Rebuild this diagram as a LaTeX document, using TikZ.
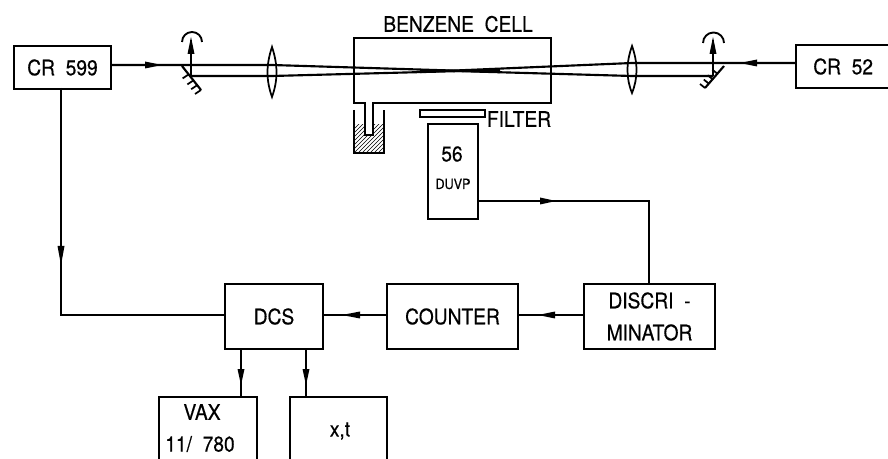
\documentclass[tikz,border=0pt]{standalone}
\usepackage{fontspec}
\setmainfont[FakeStretch=0.9,FakeBold=0.5,WordSpace=2]{TeX Gyre Heros}
\usetikzlibrary{patterns,calc}
\tikzset{
 px/.style={x=0.75pt,y=-0.75pt},
 boxn/.style={draw,line width=1.5pt,inner sep=0pt,align=center,font=\fontsize{16}{24}\selectfont},
 lab/.style={font=\fontsize{16}{18}\selectfont},
 wire/.style={line width=1.1pt},
 beam/.style={line width=1.6pt},
 lens/.style={draw,line width=1.3pt},
}
\newcommand{\mkbox}[6]{\node[boxn,minimum width=#4*0.75pt-#2*0.75pt,minimum height=#5*0.75pt-#3*0.75pt,anchor=north west] (#1) at (#2,#3) {#6};}
\begin{document}
\begin{tikzpicture}[px]
\useasboundingbox (0,0) rectangle (888,459);
\clip (0,0) rectangle (888,459);
\mkbox{crA}{13}{45}{110}{88}{CR 599}
\mkbox{crB}{795}{44}{900}{87}{\hspace*{-8pt}CR 52}
\mkbox{dcs}{224}{283}{322}{348}{DCS}
\mkbox{cnt}{386}{283}{517}{348}{COUNTER}
\mkbox{dsc}{583}{283}{714}{348}{DISCRI -\\MINATOR}
\mkbox{vax}{158}{396}{256}{470}{}
\mkbox{xt}{289}{396}{386}{470}{}
\mkbox{pmt}{427}{123}{477}{218}{}
\node[lab] (vaxa) at (202,412) {VAX};
\node[lab] (vaxb) at (200,444) {11/ 780};
\node[lab] (xtl) at (340,431) {x,t};
\node[lab] (n56) at (452,154) {56};
\node[font=\fontsize{10.5}{11}\selectfont] (duvp) at (453,184) {DUVP};
\node[lab] (bc) at (458,24) {BENZENE CELL};
\node[lab] (ft) at (519,119) {FILTER};
% beams
\coordinate (mAt) at (191,65);\coordinate (mAb) at (191,76);
\coordinate (mBt) at (713,63);\coordinate (mBb) at (713,76);
\coordinate (lAt) at (272,65);\coordinate (lAb) at (272,76);
\coordinate (lBt) at (632,63);\coordinate (lBb) at (632,76);
\draw[beam] (crA.east |- 0,65) -- (lAt) -- (500,72);
\draw[beam] (mAb) -- (lAb) -- (500,70);
\draw[beam] (crB.west |- 0,63) -- (lBt) -- (420,72);
\draw[beam] (mBb) -- (lBb) -- (420,70);
% cell
\draw[line width=1.5pt] (365,135) -- (365,103) -- (354,103) -- (354,38) -- (551,38) -- (551,103) -- (373,103) -- (373,135) -- cycle;
% trap
\fill[pattern=north east lines,pattern color=black] (354,125) rectangle (384,153);
\fill[white] (365.5,110) rectangle (372.5,134.5);
\draw[line width=1.5pt] (354,110) -- (354,153) -- (384,153) -- (384,110);
\draw[line width=1.5pt] (365,135) -- (373,135) (365,110) -- (365,135) (373,110) -- (373,135);
% filter
\draw[line width=1.5pt] (420,110) rectangle (485,117);
% lenses
\draw[lens] (272,47) .. controls (266,65) and (266,80) .. (272,97) .. controls (278,80) and (278,65) .. (272,47) -- cycle;
\draw[lens] (632,46) .. controls (626,63) and (626,78) .. (632,93) .. controls (638,78) and (638,63) .. (632,46) -- cycle;
% mirrors
\draw[line width=1.6pt] (182,66) -- (201,90);
\foreach \t in {0.35,0.6,0.8,1.0}{\draw[line width=1.3pt] ($(182,66)!\t!(201,90)$) -- ++(-6,4);}
\draw[line width=1.6pt] (724,66) -- (705,88);
\foreach \t in {0.35,0.6,0.8,1.0}{\draw[line width=1.3pt] ($(724,66)!\t!(705,88)$) -- ++(-5,-4);}
\draw[line width=1.4pt] (mAb) -- (191,40);
\fill (191,37) -- (194.5,54) -- (187.5,54) -- cycle;
\draw[line width=1.4pt] (182,42) arc (180:360:10);
\draw[line width=1.4pt] (mBb) -- (713,40);
\fill (713,37) -- (716.5,54) -- (709.5,54) -- cycle;
\draw[line width=1.4pt] (703,43) arc (180:360:10.5);
% arrows
\fill (162,65) -- (145,61.5) -- (145,68.5) -- cycle;
\fill (740,63) -- (757,59.5) -- (757,66.5) -- cycle;
% wires
\draw[wire] (61,88) -- (61,315) -- (dcs.west |- 0,315);
\fill (61,265) -- (57.5,246) -- (64.5,246) -- cycle;
\draw[wire] (477,201) -- (649,201) -- (649,283);
\fill (556,201) -- (540,197.5) -- (540,204.5) -- cycle;
\draw[wire] (dsc.west |- 0,315) -- (cnt.east |- 0,315);
\fill (538,315) -- (555,311.5) -- (555,318.5) -- cycle;
\draw[wire] (cnt.west |- 0,315) -- (dcs.east |- 0,315);
\fill (342,315) -- (360,311.5) -- (360,318.5) -- cycle;
\draw[wire] (241,348) -- (241,396);
\fill (241,385) -- (237.5,369) -- (244.5,369) -- cycle;
\draw[wire] (306,348) -- (306,396);
\fill (306,385) -- (302.5,369) -- (309.5,369) -- cycle;
\end{tikzpicture}
\end{document}
